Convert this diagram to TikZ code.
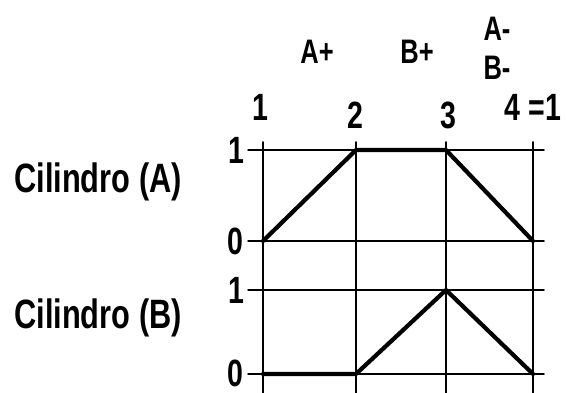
\documentclass[tikz,border=0pt]{standalone}
\usepackage{fontspec}
\setmainfont[FakeStretch=0.75]{Liberation Sans}
\begin{document}
\begin{tikzpicture}[x=1pt, y=1pt, line join=round, line cap=round,
	txt/.style={font=\bfseries\fontsize{38}{38}\selectfont, inner sep=0pt},
	big/.style={font=\bfseries\fontsize{41}{41}\selectfont, inner sep=0pt},
	small/.style={font=\bfseries\fontsize{34}{34}\selectfont, inner sep=0pt}]
	\useasboundingbox (0,0) rectangle (567,393);
	
	% Khung lưới
	\foreach \x in {263,356,446,533}{
		\draw[line width=1.5pt] (\x,251)--(\x,0);
	}
	\foreach \y in {243,152,103,19}{
		\draw[line width=1.5pt] (248,\y)--(544,\y);
	}
	
	% Điểm của hai đồ thị
	\foreach \name/\x/\y in {
		Pa/263/152, Qa/356/243, Ra/446/243, Sa/533/152,
		Pb/263/19, Qb/356/19, Rb/446/103, Sb/533/19
	}{
		\coordinate (\name) at (\x,\y);
	}
	\draw[line width=4.2pt] (Pa)--(Qa)--(Ra)--(Sa);
	\draw[line width=4.2pt] (Pb)--(Qb)--(Rb)--(Sb);
	
	% Nhãn
	\foreach \name/\x/\y/\t in {
		s1/260/286/1, s2/355/278/2, s3/448/278/3, s4/533/286/{4 =1},
		a1/236/243/1, a0/235/152/0, b1/236/103/1, b0/235/20/0
	}{
		\node[txt] (\name) at (\x,\y) {\t};
	}
	\node[big] (cilA) at (98,211) {Cilindro (A)};
	\node[big] (cilB) at (98,75) {Cilindro (B)};
	\foreach \name/\x/\y/\t in {
		ap/317/341/A+, bp/417/341/B+, am/497/364/A-, bm/497/325/B-
	}{
		\node[small] (\name) at (\x,\y) {\t};
	}
\end{tikzpicture}
\end{document}
